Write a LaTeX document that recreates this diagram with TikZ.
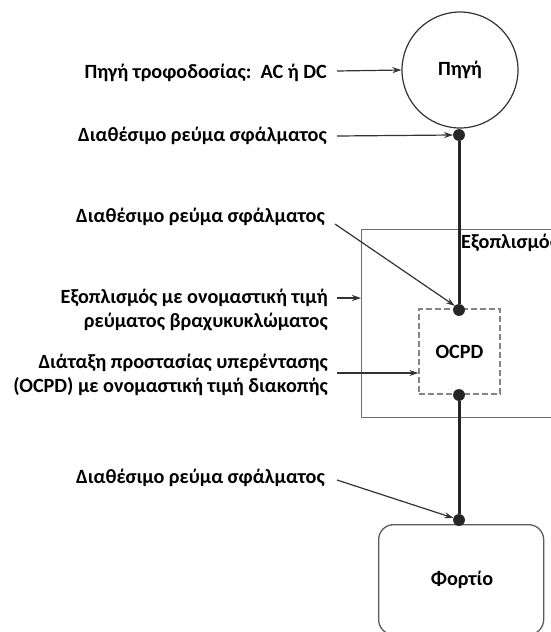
\documentclass[tikz,border=0pt]{standalone}
\usepackage{fontspec}
\setmainfont{Carlito}
\usetikzlibrary{arrows.meta,calc}
\definecolor{inkdark}{HTML}{262626}
\definecolor{arrowgray}{HTML}{333333}
\definecolor{framegray}{HTML}{6E6E6E}
\definecolor{dashgray}{HTML}{858585}
\begin{document}
\begin{tikzpicture}[x=1pt,y=-1pt,
  every node/.style={font=\fontsize{20.2}{24}\selectfont\bfseries},
  lbl/.style={anchor=east,align=right,inner sep=0pt},
  arr/.style={draw=arrowgray,line width=1.2pt,-{Stealth[length=9pt,width=6pt]}},
  bus/.style={draw=inkdark,line width=3pt},
  junction/.style={circle,fill=inkdark,inner sep=0pt,minimum size=11.5pt},
  frame/.style={draw=framegray,line width=1.3pt}]
\clip (0,0) rectangle (551,632);
\fill[white] (0,0) rectangle (551,632);

% source
\node[circle,draw=arrowgray,line width=1.2pt,minimum size=116pt,inner sep=0pt] (src) at (460,70) {Πηγή};

% equipment frame and protective device
\node[frame,anchor=north west,minimum width=210pt,minimum height=188pt,inner sep=0pt] (equip) at (361,229) {};
\node[anchor=west,inner sep=0pt] (equiptitle) at (461,243) {Εξοπλισμός};
\node[draw=dashgray,line width=1.3pt,dash pattern=on 6pt off 3pt,minimum width=81pt,minimum height=85pt,inner sep=0pt] (ocpd) at (459.5,351.5) {OCPD};

% load
\node[frame,draw=arrowgray!80,rounded corners=15pt,anchor=north west,minimum width=165pt,minimum height=110pt,inner sep=0pt] (load) at (378,524) {};
\node[inner sep=0pt] (loadtext) at (462,580) {Φορτίο};

% junction points
\node[junction] (j1) at (459,135) {};
\node[junction] (j2) at (459,310) {};
\node[junction] (j3) at (459,395) {};
\node[junction] (j4) at (459,520) {};

% main conductor
\draw[bus] (j1) -- (j2);
\draw[bus] (j3) -- (j4);
\node[junction] at (j1) {};
\node[junction] at (j2) {};
\node[junction] at (j3) {};
\node[junction] at (j4) {};

% labels
\node[lbl] (l1) at (327,73) {Πηγή τροφοδοσίας:\ \ AC ή DC};
\node[lbl] (l2) at (327,136) {Διαθέσιμο ρεύμα σφάλματος};
\node[lbl] (l3) at (325,217) {Διαθέσιμο ρεύμα σφάλματος};
\node[lbl] (l4) at (328,310) {Εξοπλισμός με ονομαστική τιμή\\ρεύματος βραχυκυκλώματος};
\node[lbl] (l5) at (328,375) {Διάταξη προστασίας υπερέντασης\\(OCPD) με ονομαστική τιμή διακοπής};
\node[lbl] (l6) at (325,478) {Διαθέσιμο ρεύμα σφάλματος};

% callout arrows
\draw[arr] ([xshift=10pt,yshift=2pt]l1.east) -- (src.west);
\draw[arr] ([xshift=10pt]l2.east) -- (j1.west);
\draw[arr] ([xshift=10pt,yshift=-7pt]l3.east) -- (j2.135);
\draw[arr] ([xshift=9pt,yshift=12pt]l4.east) -- ([yshift=12pt]l4.east -| equip.west);
\draw[arr] ([xshift=9pt,yshift=2pt]l5.east) -- ([yshift=2pt]l5.east -| ocpd.west);
\draw[arr] ([xshift=12pt,yshift=-2pt]l6.east) -- (j4.160);
\end{tikzpicture}
\end{document}
